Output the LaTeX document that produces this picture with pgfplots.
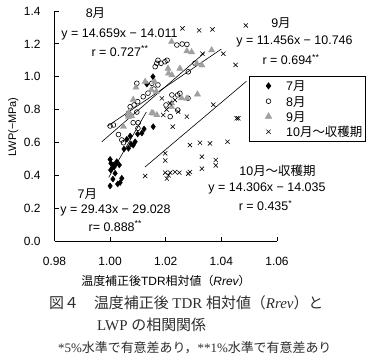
\documentclass[border=0pt]{standalone}
\usepackage{fontspec}
\setmainfont{Liberation Sans}
\newfontfamily\jp{Noto Sans CJK JP}
\newfontfamily\serif{Liberation Serif}
\usepackage{pgfplots}
\pgfplotsset{compat=1.18}
\definecolor{tri}{RGB}{160,160,160}
\definecolor{cap}{RGB}{45,45,45}
\begin{document}
\begin{tikzpicture}
\path[use as bounding box] (0bp,0bp) rectangle (374bp,-360bp);
\begin{axis}[
  at={(54.5bp,-241bp)}, anchor=south west,
  scale only axis, width=222.5bp, height=230bp,
  xmin=0.98, xmax=1.06, ymin=0, ymax=1.4,
  axis x line*=bottom, axis y line*=left,
  axis line style={line width=0.8bp,-},
  tick align=inside, major tick length=4bp,
  major tick style={line width=0.8bp,black},
  xtick={0.98,1.00,1.02,1.04,1.06},
  ytick={0,0.2,0.4,0.6,0.8,1.0,1.2,1.4},
  /pgf/number format/assume math mode=true,
  tick label style={font=\fontsize{12}{14}\selectfont},
  xticklabel style={/pgf/number format/fixed,/pgf/number format/fixed zerofill,/pgf/number format/precision=2,yshift=-12.5bp},
  yticklabel style={/pgf/number format/fixed,/pgf/number format/fixed zerofill,/pgf/number format/precision=1,xshift=-10.5bp},
  legend style={at={(0.8742,0.7174)}, anchor=north west, draw=black, line width=0.8bp,
    inner xsep=3bp, inner ysep=4.5bp, row sep=5.3bp, column sep=12.3bp,
    font=\fontsize{12.5}{14}\selectfont,
    nodes={inner sep=0bp, text height=10bp, text depth=0bp}},
  legend cell align=left,
  legend image code/.code={\path (-15.7bp,0bp) (5bp,0bp); \draw[#1] plot coordinates {(0bp,0bp)};},
]
\addplot[only marks, mark=diamond*, mark size=3bp, black] coordinates {
(1.0000,0.335)(1.0027,0.347)(1.0036,0.356)(1.0042,0.382)(1.0010,0.377)(1.0018,0.412)(1.0002,0.432)(1.0008,0.445)(1.0015,0.452)(1.0003,0.473)(1.0012,0.462)(1.0024,0.483)(1.0033,0.463)(1.0000,0.497)(1.0020,0.470)(1.0066,0.564)(1.0060,0.619)(1.0083,0.584)(1.0072,0.639)(1.0075,0.590)(1.0090,0.604)(1.0099,0.651)(1.0114,0.657)(1.0122,0.682)(1.0155,0.696)(1.0132,0.955)(1.0154,1.000)(1.0050,0.560)
};
\addlegendentry{7{\jp 月}}
\addplot[only marks, mark=o, mark size=2.4bp, line width=0.6bp, black] coordinates {
(1.0000,0.700)(1.0012,0.706)(1.0030,0.648)(1.0042,0.615)(1.0048,0.598)(1.0066,0.777)(1.0096,0.785)(1.0083,0.720)(1.0101,0.720)(1.0100,0.686)(1.0064,0.767)(1.0072,0.817)(1.0086,0.828)(1.0099,0.848)(1.0119,0.878)(1.0136,0.900)(1.0158,0.925)(1.0096,0.960)(1.0150,0.960)(1.0172,0.950)(1.0162,1.061)(1.0168,1.082)(1.0172,1.100)(1.0183,1.082)(1.0197,1.091)(1.0205,1.100)(1.0222,0.889)(1.0243,0.889)(1.0240,1.193)(1.0259,1.199)(1.0276,1.197)(1.0305,1.082)(1.0281,1.030)(1.0251,0.899)(1.0280,0.869)(1.0243,0.797)(1.0201,0.828)(1.0216,0.757)
};
\addlegendentry{8{\jp 月}}
\addplot[only marks, mark=triangle*, mark size=3.6bp, color=tri] coordinates {
(1.0221,1.213)(1.0276,1.156)(1.0293,1.150)(1.0365,1.162)(1.0312,1.080)(1.0330,1.070)(1.0208,1.050)(1.0251,1.050)(1.0222,1.010)(1.0210,1.020)(1.0093,0.935)(1.0160,0.970)(1.0148,0.920)(1.0126,0.970)(1.0166,0.910)(1.0083,0.860)(1.0066,0.780)(1.0078,0.760)(1.0150,0.780)(1.0168,0.767)(1.0221,0.816)(1.0276,0.868)(1.0314,0.893)(1.0257,0.870)(1.0221,0.839)(1.0066,0.757)(1.0048,0.696)(1.0155,0.777)
};
\addlegendentry{9{\jp 月}}
\addplot[only marks, mark=x, mark size=3bp, line width=0.6bp, black] coordinates {
(1.0126,0.396)(1.0198,0.416)(1.0204,0.380)(1.0210,0.400)(1.0216,0.416)(1.0233,0.420)(1.0249,0.416)(1.0281,0.410)(1.0287,0.420)(1.0198,0.534)(1.0198,0.490)(1.0287,0.584)(1.0323,0.598)(1.0359,0.594)(1.0422,0.604)(1.0330,0.513)(1.0330,0.440)(1.0380,0.493)(1.0380,0.460)(1.0371,0.830)(1.0455,0.747)(1.0245,0.787)(1.0276,0.757)(1.0225,0.696)(1.0191,0.767)(1.0260,1.294)(1.0320,1.282)(1.0368,1.288)(1.0488,1.312)(1.0332,1.140)(1.0407,1.140)(1.0451,1.072)(1.0186,0.868)(1.0215,0.838)(1.0203,0.800)(1.0233,0.858)(1.0461,0.747)
};
\addlegendentry{10{\jp 月～収穫期}}
\addplot[black, line width=0.6bp, no marks, forget plot] coordinates {(0.9995,0.3873)(1.0130,0.7846)};
\addplot[black, line width=0.6bp, no marks, forget plot] coordinates {(0.9970,0.6040)(1.0340,1.1464)};
\addplot[black, line width=0.6bp, no marks, forget plot] coordinates {(0.9990,0.6985)(1.0400,1.1682)};
\addplot[black, line width=0.6bp, no marks, forget plot] coordinates {(1.0125,0.4498)(1.0490,0.9720)};
\end{axis}
\begin{scope}[every node/.style={font=\fontsize{12.5}{14}\selectfont, anchor=base, inner sep=0pt}]
\node at (95.5bp,-17.5bp) {8{\jp 月}};
\node at (119.5bp,-37bp) {y = 14.659x − 14.011};
\node at (120bp,-56bp) {r = 0.727\textsuperscript{**}};
\node at (281bp,-27bp) {9{\jp 月}};
\node at (294.5bp,-44.5bp) {y = 11.456x − 10.746};
\node at (291bp,-64.5bp) {r = 0.694\textsuperscript{**}};
\node at (277.5bp,-175bp) {10{\jp 月～収穫期}};
\node at (267bp,-191bp) {y = 14.306x − 14.035};
\node at (265.5bp,-210.5bp) {r = 0.435\textsuperscript{*}};
\node at (87.3bp,-198bp) {7{\jp 月}};
\node at (115.5bp,-213.8bp) {y = 29.43x − 29.028};
\node at (115.3bp,-231.2bp) {r= 0.888\textsuperscript{**}};
\end{scope}
\node[font=\fontsize{12}{14}\selectfont, anchor=base, inner sep=0pt] at (166bp,-285.5bp) {{\jp 温度補正後}TDR{\jp 相対値（}{\itshape Rrev}{\jp ）}};
\node[font=\fontsize{11}{13}\selectfont, anchor=base, inner sep=0pt, rotate=90] at (16bp,-127bp) {LWP(−MPa)};
\begin{scope}[every node/.style={anchor=base west, inner sep=0pt, text=cap}]
\node[font=\fontsize{15}{17}\selectfont\serif] at (49bp,-308bp) {{\jp 図４　温度補正後} TDR {\jp 相対値（}{\itshape Rrev}{\jp ）と}};
\node[font=\fontsize{15}{17}\selectfont\serif] at (97bp,-330.5bp) {LWP {\jp の相関関係}};
\node[font=\fontsize{13}{15}\selectfont\serif] at (58bp,-352bp) {*5\%{\jp 水準で有意差あり，}**1\%{\jp 水準で有意差あり}};
\end{scope}
\end{tikzpicture}
\end{document}
